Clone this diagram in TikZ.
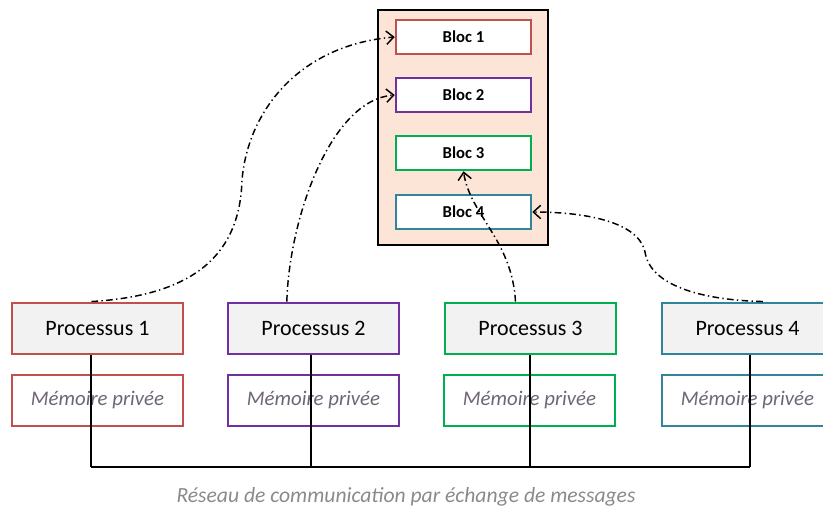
\documentclass[tikz,border=0pt]{standalone}
\usepackage{fontspec}
\setmainfont{Carlito}
\usetikzlibrary{shapes.geometric, arrows.meta}
\definecolor{cred}{HTML}{C0504D}
\definecolor{cpurple}{HTML}{7030A0}
\definecolor{cgreen}{HTML}{00B050}
\definecolor{cteal}{HTML}{31849B}
\definecolor{peach}{HTML}{FCE4D6}
\definecolor{procfill}{HTML}{F2F2F2}
\definecolor{memtext}{HTML}{6F6675}
\definecolor{nettext}{HTML}{8A8A8A}
\tikzstyle{shared} = [rectangle, draw=black, line width=1.5pt, fill=peach, minimum width=127.5pt, minimum height=176.25pt, inner sep=0pt]
\tikzstyle{bloc} = [rectangle, line width=1.9pt, fill=white, minimum width=101.25pt, minimum height=25.5pt, inner sep=0pt, font=\fontsize{12.5}{14}\selectfont\bfseries]
\tikzstyle{process} = [rectangle, line width=2.2pt, fill=procfill, minimum width=128.25pt, minimum height=38.25pt, inner sep=0pt, font=\fontsize{16.5}{19}\selectfont]
\tikzstyle{memory} = [rectangle, line width=1.1pt, fill=white, minimum width=128.25pt, minimum height=38.25pt, inner sep=0pt, text=memtext, font=\fontsize{15.6}{18}\selectfont\itshape]
\tikzstyle{bus} = [line width=1.1pt, black]
\tikzstyle{arrow} = [line width=1.1pt, dash pattern=on 5pt off 2.5pt on 1pt off 2.5pt, -{Straight Barb[length=5.5pt, width=10pt, line width=1.1pt]}]

\begin{document}
\begin{tikzpicture}[x=0.75pt, y=-0.75pt]
            \useasboundingbox (0,0) rectangle (823,508);
            \clip (0,0) rectangle (823,508);
            % shared memory
            \node [shared] at (463,127.5) (shm) {};
            \node [bloc, draw=cred] at (463.5,37) (b1) {Bloc 1};
            \node [bloc, draw=cpurple] at (463.5,95) (b2) {Bloc 2};
            \node [bloc, draw=cgreen] at (463.5,153) (b3) {Bloc 3};
            \node [bloc, draw=cteal] at (463.5,212) (b4) {Bloc 4};

            % processes
            \node [process, draw=cred] at (97.5,328.5) (p1) {Processus 1};
            \node [process, draw=cpurple] at (313.5,328.5) (p2) {Processus 2};
            \node [process, draw=cgreen] at (530.5,328.5) (p3) {Processus 3};
            \node [process, draw=cteal] at (747.5,328.5) (p4) {Processus 4};

            \node [memory, draw=cred] at (97.5,400.5) (m1) {Mémoire privée};
            \node [memory, draw=cpurple] at (313.5,400.5) (m2) {Mémoire privée};
            \node [memory, draw=cgreen] at (529.5,400.5) (m3) {Mémoire privée};
            \node [memory, draw=cteal] at (747.5,400.5) (m4) {Mémoire privée};

            % network
            \coordinate (n1) at (91,467);
            \coordinate (n2) at (311,467);
            \coordinate (n3) at (530,467);
            \coordinate (n4) at (750,467);
            \node [text=nettext, font=\fontsize{16.2}{19}\selectfont\itshape] at (406,497) (net) {Réseau de communication par échange de messages};

            \draw [bus] (n1 |- p1.south) -- (n1);
            \draw [bus] (n2 |- p2.south) -- (n2);
            \draw [bus] (n3 |- p3.south) -- (n3);
            \draw [bus] (n4 |- p4.south) -- (n4);
            \draw [bus] (n1) -- (n4);

            \draw [arrow] ([xshift=-4.5pt]p1.north) .. controls (200,295) and (240,250) .. (242,180) .. controls (248,110) and (300,45) .. (b1.west);
            \draw [arrow] ([xshift=-20pt]p2.north) .. controls (289,220) and (330,100) .. (b2.west);
            \draw [arrow] ([xshift=-11.25pt]p3.north) .. controls (512,240) and (470,215) .. (b3.south);
            \draw [arrow] ([xshift=11.5pt]p4.north) .. controls (700,300) and (650,285) .. (645,252) .. controls (638,220) and (580,212) .. (b4.east);
            \end{tikzpicture}
\end{document}
